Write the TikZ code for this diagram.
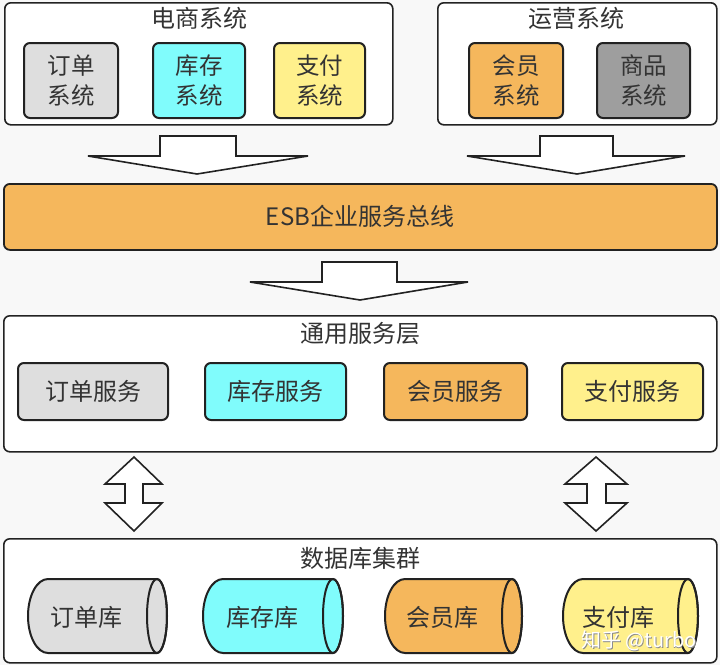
\documentclass[tikz,border=0pt]{standalone}
\usepackage{fontspec}
\setmainfont{Noto Sans CJK SC}
\definecolor{bg}{HTML}{F8F8F8}
\definecolor{cgray}{HTML}{DEDEDE}
\definecolor{ccyan}{HTML}{80FCFC}
\definecolor{cyellow}{HTML}{FFF08C}
\definecolor{corange}{HTML}{F5B75C}
\definecolor{cdark}{HTML}{9E9E9E}
\definecolor{edge}{HTML}{222222}
\definecolor{txt}{HTML}{333333}
\newcommand\dbcyl[6]{%
  \draw[cylstyle, fill=#4] (#3,579) -- ({#2+20},579)
    arc[start angle=90, end angle=270, x radius=20pt, y radius=37pt]
    -- (#3,653)
    arc[start angle=-90, end angle=90, x radius=10pt, y radius=37pt] -- cycle;
  \draw[cylstyle] (#3,616) ellipse[x radius=10pt, y radius=37pt];
  \node[cyltext] (#1) at (#5,617) {#6};
}
\begin{document}
\begin{tikzpicture}[x=1pt, y=-1pt,
  outerbox/.style={draw=edge, line width=1.6pt, fill=white, rounded corners=6pt, anchor=north west, inner sep=0pt},
  sysbox/.style={draw=edge, line width=2pt, rounded corners=6pt, text=txt, align=center,
    font=\fontsize{23.5}{30}\selectfont, anchor=north west, inner sep=0pt, minimum height=75pt},
  svcbox/.style={draw=edge, line width=2pt, rounded corners=6pt, text=txt,
    font=\fontsize{24}{28}\selectfont, anchor=north west, inner sep=0pt, minimum height=57pt},
  titletext/.style={text=txt, font=\fontsize{24}{28}\selectfont, inner sep=0pt},
  blockarrow/.style={draw=edge, line width=1.6pt, fill=white, line join=miter},
  cylstyle/.style={draw=edge, line width=2pt},
  cyltext/.style={text=txt, font=\fontsize{24}{28}\selectfont, inner sep=0pt}
]
\useasboundingbox (0,0) rectangle (720,665);
\fill[bg] (0,0) rectangle (720,665);

% top systems
\node[outerbox, minimum width=388pt, minimum height=122pt] (ecom) at (4,2) {};
\node[titletext] (ecomt) at (199,18) {电商系统};
\node[sysbox, fill=cgray, minimum width=94pt] (ddxt) at (23,42) {订单\\系统};
\node[sysbox, fill=ccyan, minimum width=92pt] (kcxt) at (152,42) {库存\\系统};
\node[sysbox, fill=cyellow, minimum width=91pt] (zfxt) at (273,42) {支付\\系统};

\node[outerbox, minimum width=279pt, minimum height=122pt] (ops) at (437,2) {};
\node[titletext] (opst) at (576,18) {运营系统};
\node[sysbox, fill=corange, minimum width=94pt] (hyxt) at (468,42) {会员\\系统};
\node[sysbox, fill=cdark, minimum width=93pt] (spxt) at (596,42) {商品\\系统};

% down arrows
\draw[blockarrow] (160,136) -- (236,136) -- (236,156) -- (308,156) -- (197,174) -- (88,156) -- (160,156) -- cycle;
\draw[blockarrow] (540,136) -- (613,136) -- (613,156) -- (685,156) -- (577,174) -- (467,156) -- (540,156) -- cycle;

% ESB
\node[draw=edge, line width=1.8pt, fill=corange, rounded corners=6pt, anchor=north west, inner sep=0pt,
  minimum width=713pt, minimum height=66pt] (esb) at (3,183) {};
\node[titletext] (esbt) at (360,216) {ESB企业服务总线};

\draw[blockarrow] (322,262) -- (397,262) -- (397,282) -- (468,282) -- (360,300) -- (250,282) -- (322,282) -- cycle;

% service layer
\node[outerbox, minimum width=713pt, minimum height=136pt] (svc) at (3,315) {};
\node[titletext] (svct) at (360,333) {通用服务层};
\node[svcbox, fill=cgray, minimum width=150pt] (ddfw) at (17,362) {订单服务};
\node[svcbox, fill=ccyan, minimum width=141pt] (kcfw) at (204,362) {库存服务};
\node[svcbox, fill=corange, minimum width=143pt] (hyfw) at (383,362) {会员服务};
\node[svcbox, fill=cyellow, minimum width=141pt] (zffw) at (561,362) {支付服务};

% double arrows
\draw[blockarrow] (134,457) -- (162,484) -- (143,484) -- (143,503) -- (162,503) -- (134,531) -- (105,503) -- (125,503) -- (125,484) -- (105,484) -- cycle;
\draw[blockarrow] (596,457) -- (627,484) -- (606,484) -- (606,503) -- (627,503) -- (596,531) -- (565,503) -- (587,503) -- (587,484) -- (565,484) -- cycle;

% database cluster
\node[outerbox, minimum width=713pt, minimum height=124pt] (db) at (3,538) {};
\node[titletext] (dbt) at (360,558) {数据库集群};
\dbcyl{ddk}{28}{157}{cgray}{86}{订单库}
\dbcyl{kck}{203}{333}{ccyan}{262}{库存库}
\dbcyl{hyk}{385}{512}{corange}{442}{会员库}
\dbcyl{zfk}{563}{688}{cyellow}{618}{支付库}

% watermark
\node[text=black!45, font=\fontsize{20}{24}\selectfont, inner sep=0pt] (wms) at (639.8,641.8) {知乎 @turbo};
\node[text=white, font=\fontsize{20}{24}\selectfont, inner sep=0pt] (wm) at (639,641) {知乎 @turbo};
\end{tikzpicture}
\end{document}
